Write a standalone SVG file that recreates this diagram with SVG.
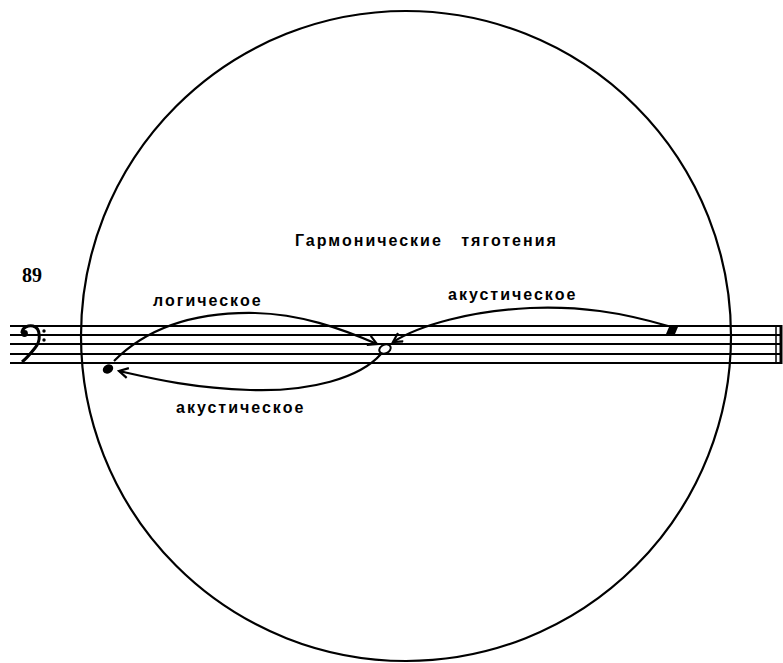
<svg xmlns="http://www.w3.org/2000/svg" width="783" height="663" viewBox="0 0 783 663">
<defs>
<style>
.staff{stroke:#000;stroke-width:1.8;fill:none}
.conn{stroke:#000;stroke-width:2.2;fill:none}
.lbl{font-family:"Liberation Sans","DejaVu Sans",sans-serif;font-weight:bold;font-size:16px;fill:#000;letter-spacing:2px}
</style>
<marker id="arr" viewBox="0 0 12 12" refX="10" refY="6" markerWidth="12" markerHeight="12" markerUnits="userSpaceOnUse" orient="auto">
<path d="M1 1 L10 6 L1 11" fill="none" stroke="#000" stroke-width="2.2"/>
</marker>
</defs>
<rect width="783" height="663" fill="#fff"/>
<g id="circle">
<circle cx="406" cy="336" r="325" fill="none" stroke="#000" stroke-width="2.2"/>
</g>
<g id="staff">
<line class="staff" x1="10" y1="326" x2="781" y2="326"/>
<line class="staff" x1="10" y1="335" x2="781" y2="335"/>
<line class="staff" x1="10" y1="344" x2="781" y2="344"/>
<line class="staff" x1="10" y1="354" x2="781" y2="354"/>
<line class="staff" x1="10" y1="363" x2="781" y2="363"/>
<line x1="776" y1="325" x2="776" y2="364" stroke="#000" stroke-width="1.5"/>
<line x1="781" y1="325" x2="781" y2="364" stroke="#000" stroke-width="3"/>
</g>
<g id="clef">
<circle cx="24.5" cy="333.5" r="3.4" fill="#000"/>
<path d="M22 333 C22 327,29 325,33 326 C41 328,41 341,35 348 C31 353,27 358,22 362" fill="none" stroke="#000" stroke-width="3"/>
<circle cx="44" cy="331" r="1.7" fill="#000"/>
<circle cx="44" cy="340" r="1.7" fill="#000"/>
</g>
<g id="num"><text x="22" y="282" font-family="Liberation Serif,serif" font-weight="bold" font-size="20">89</text></g>
<g id="title"><text class="lbl" x="295" y="246" word-spacing="12">Гармонические тяготения</text></g>
<g id="note1"><ellipse cx="108" cy="369" rx="5.5" ry="4.3" transform="rotate(-30 108 369)" fill="#000"/></g>
<g id="note2"><ellipse cx="385" cy="349" rx="6" ry="4.3" transform="rotate(-25 385 349)" fill="none" stroke="#000" stroke-width="2"/></g>
<g id="note3"><polygon points="666,334 669,327 678,327 675,334" fill="#000"/></g>
<g id="connectors">
<path class="conn" d="M114 361 C150 325,200 312,255 313 C300 314,340 328,377 344" marker-end="url(#arr)"/>
<path class="conn" d="M668 326 C620 312,580 306,530 308 C470 311,420 325,393 342" marker-end="url(#arr)"/>
<path class="conn" d="M381 354 C360 378,310 392,250 390 C190 388,150 378,119 371" marker-end="url(#arr)"/>
</g>
<g id="labels">
<text class="lbl" x="153" y="306">логическое</text>
<text class="lbl" x="448" y="300">акустическое</text>
<text class="lbl" x="176" y="413">акустическое</text>
</g>
</svg>
